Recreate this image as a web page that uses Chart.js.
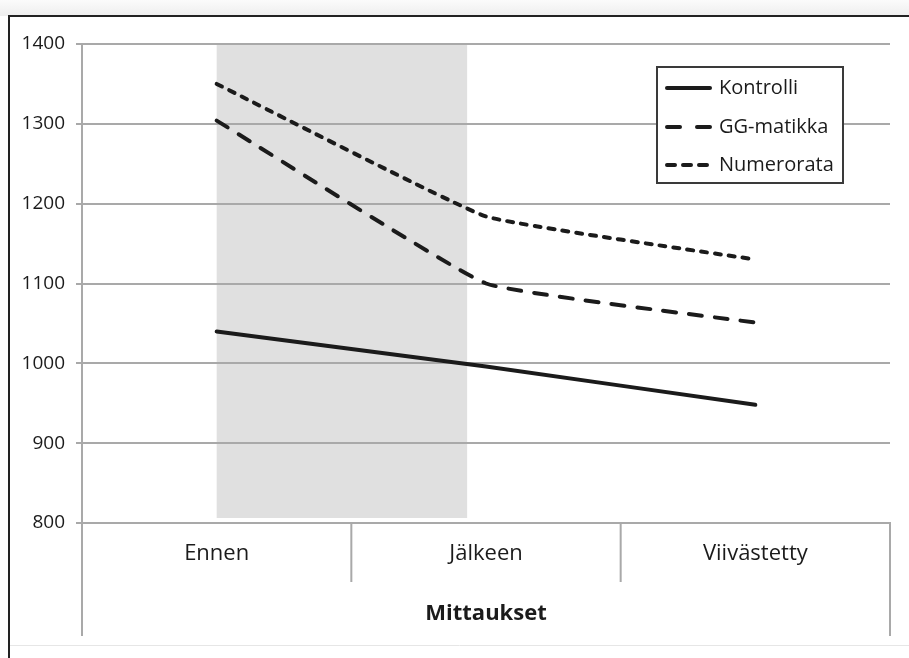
<!DOCTYPE html>
<html>
<head>
<meta charset="utf-8">
<script src="https://cdn.jsdelivr.net/npm/chart.js@4.4.1/dist/chart.umd.min.js"></script>
<style>
  html, body { margin: 0; padding: 0; background: #fff; }
  canvas { display: block; }
</style>
</head>
<body>
<canvas id="c" width="909" height="658"></canvas>
<script>
// Reaction times per measurement point
const categories = ['Ennen', 'Jälkeen', 'Viivästetty'];
const seriesNames = ['Kontrolli', 'GG-matikka', 'Numerorata'];
const kontrolli = [1040, 996, 948];
const ggMatikka = [1304, 1100, 1051];
const numerorata = [1350, 1184, 1130];
const yTicks = [800, 900, 1000, 1100, 1200, 1300, 1400];
const axisTitle = 'Mittaukset';

const FONT = "'Open Sans', 'Noto Sans', sans-serif";
const INK = '#1b1b1b';
const GRID = '#a9a9a9';

// Page frame: dark top and left rule, faint bottom rule
const framePlugin = {
  id: 'frame',
  beforeDraw(chart) {
    const ctx = chart.ctx;
    ctx.save();
    ctx.fillStyle = '#ffffff';
    ctx.fillRect(0, 0, chart.width, chart.height);
    const g = ctx.createLinearGradient(0, 0, 0, 16);
    g.addColorStop(0, '#fbfbfb');
    g.addColorStop(1, '#eeeeee');
    ctx.fillStyle = g;
    ctx.fillRect(0, 0, chart.width, 16);
    ctx.strokeStyle = '#222';
    ctx.lineWidth = 2;
    ctx.beginPath();
    ctx.moveTo(8, 16);
    ctx.lineTo(chart.width, 16);
    ctx.moveTo(9, 16);
    ctx.lineTo(9, chart.height);
    ctx.stroke();
    ctx.strokeStyle = '#e6e6e6';
    ctx.lineWidth = 1;
    ctx.beginPath();
    ctx.moveTo(10, 645.5);
    ctx.lineTo(chart.width, 645.5);
    ctx.stroke();
    ctx.restore();
  }
};

// Grey band marking the training period (from the first measurement towards the second)
const bandPlugin = {
  id: 'band',
  beforeDraw(chart) {
    const x = chart.scales.x, y = chart.scales.y;
    const ctx = chart.ctx;
    const left = x.getPixelForValue(0);
    const right = x.getPixelForValue(0.93);
    ctx.save();
    ctx.fillStyle = '#e0e0e0';
    ctx.fillRect(left, y.top, right - left, y.bottom - 5 - y.top);
    ctx.restore();
  }
};

// Category dividers below the axis and the outer rules that enclose the axis title
const dividerPlugin = {
  id: 'dividers',
  afterDraw(chart) {
    const x = chart.scales.x;
    const ctx = chart.ctx;
    const n = categories.length;
    const step = (x.right - x.left) / n;
    ctx.save();
    ctx.strokeStyle = GRID;
    ctx.lineWidth = 2;
    ctx.beginPath();
    for (let i = 1; i < n; i++) {
      const px = x.left + step * i;
      ctx.moveTo(px, x.top);
      ctx.lineTo(px, x.top + 59);
    }
    ctx.moveTo(x.left, x.top);
    ctx.lineTo(x.left, x.top + 113);
    ctx.moveTo(x.right, x.top - 1);
    ctx.lineTo(x.right, x.top + 113);
    ctx.stroke();
    ctx.restore();
  }
};

// Boxed legend inside the plot area
const boxLegendPlugin = {
  id: 'boxLegend',
  afterDatasetsDraw(chart) {
    const ctx = chart.ctx;
    const bx = 657, by = 67, bw = 186, bh = 116;
    ctx.save();
    ctx.fillStyle = '#ffffff';
    ctx.fillRect(bx, by, bw, bh);
    ctx.strokeStyle = '#3a3a3a';
    ctx.lineWidth = 2;
    ctx.strokeRect(bx, by, bw, bh);
    const rows = [88, 127, 165];
    chart.data.datasets.forEach((ds, i) => {
      const yy = rows[i];
      ctx.strokeStyle = ds.borderColor;
      ctx.lineWidth = ds.borderWidth;
      ctx.lineCap = 'round';
      ctx.setLineDash(ds.legendDash || []);
      ctx.beginPath();
      ctx.moveTo(667, yy);
      ctx.lineTo(710, yy);
      ctx.stroke();
      ctx.setLineDash([]);
      ctx.fillStyle = INK;
      ctx.font = '20px ' + FONT;
      ctx.textBaseline = 'middle';
      ctx.textAlign = 'left';
      ctx.fillText(ds.label, 719, yy);
    });
    ctx.restore();
  }
};

const lineStyle = {
  borderColor: INK,
  borderWidth: 4,
  pointRadius: 0,
  pointHoverRadius: 0,
  tension: 0.1,
  borderCapStyle: 'round',
  borderJoinStyle: 'round',
  fill: false
};

new Chart(document.getElementById('c'), {
  type: 'line',
  data: {
    labels: categories,
    datasets: [
      Object.assign({}, lineStyle, { label: seriesNames[0], data: kontrolli, borderDash: [], legendDash: [] }),
      Object.assign({}, lineStyle, { label: seriesNames[1], data: ggMatikka, borderDash: [13, 13], legendDash: [13, 17] }),
      Object.assign({}, lineStyle, { label: seriesNames[2], data: numerorata, borderDash: [6, 8], legendDash: [8, 8] })
    ]
  },
  options: {
    responsive: false,
    animation: false,
    devicePixelRatio: 1,
    layout: { padding: { top: 44, right: 19, bottom: 0, left: 0 } },
    plugins: {
      legend: { display: false },
      tooltip: { enabled: false },
      title: { display: false }
    },
    scales: {
      x: {
        type: 'category',
        offset: true,
        grid: { display: false, drawTicks: false },
        border: { display: false },
        ticks: {
          padding: 18,
          color: INK,
          font: { family: FONT, size: 22 }
        },
        title: {
          display: true,
          text: axisTitle,
          color: INK,
          font: { family: FONT, size: 22, weight: 'bold' },
          padding: { top: 0, bottom: 31 }
        },
        afterFit(scale) { scale.height = 135; }
      },
      y: {
        min: 800,
        max: 1400,
        afterBuildTicks(scale) { scale.ticks = yTicks.map(v => ({ value: v })); },
        grid: { color: GRID, lineWidth: 2, tickLength: 6, drawTicks: true },
        border: { display: true, color: GRID, width: 2 },
        ticks: {
          padding: 11,
          color: INK,
          font: { family: FONT, size: 19 },
          callback: (v) => String(v)
        },
        afterFit(scale) { scale.width = 82; }
      }
    }
  },
  plugins: [framePlugin, bandPlugin, dividerPlugin, boxLegendPlugin]
});
</script>
</body>
</html>
